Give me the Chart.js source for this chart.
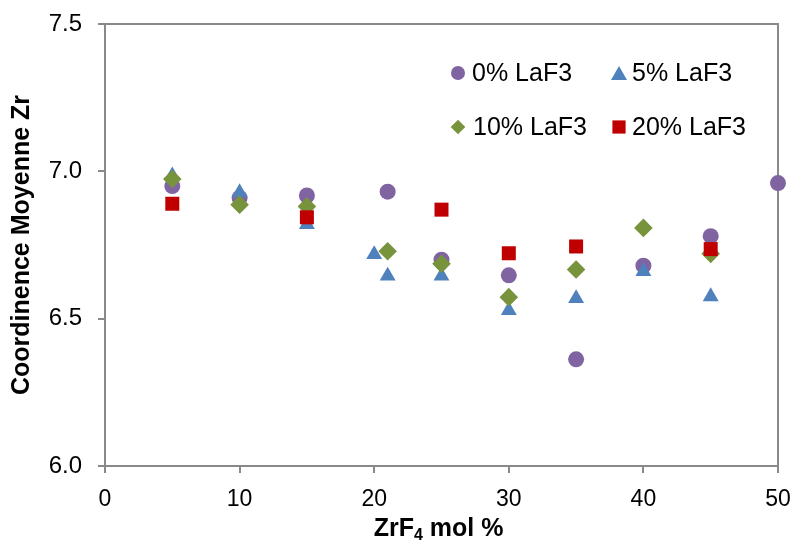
<!DOCTYPE html>
<html>
<head>
<meta charset="utf-8">
<script src="https://cdn.jsdelivr.net/npm/chart.js@4.4.1/dist/chart.umd.min.js"></script>
<style>
  html, body { margin: 0; padding: 0; background: #fff; }
  #wrap { width: 795px; height: 540px; position: relative; }
</style>
</head>
<body>
<div id="wrap"><canvas id="c" width="795" height="540"></canvas></div>
<script>
// ---- data ----
const seriesLabels = ['0% LaF3', '5% LaF3', '10% LaF3', '20% LaF3'];
const x0  = [5, 10, 15, 21, 25, 30, 35, 40, 45, 50];
const y0  = [6.95, 6.91, 6.918, 6.931, 6.70, 6.647, 6.362, 6.68, 6.78, 6.96];
const x5  = [5, 10, 15, 20, 21, 25, 30, 35, 40, 45];
const y5  = [6.985, 6.928, 6.82, 6.718, 6.645, 6.645, 6.528, 6.569, 6.66, 6.575];
const x10 = [5, 10, 15, 21, 25, 30, 35, 40, 45];
const y10 = [6.974, 6.887, 6.881, 6.729, 6.686, 6.573, 6.667, 6.808, 6.72];
const x20 = [5, 15, 25, 30, 35, 45];
const y20 = [6.89, 6.844, 6.87, 6.722, 6.745, 6.736];
const xTicks = [0, 10, 20, 30, 40, 50];
const yTicks = [6.0, 6.5, 7.0, 7.5];
const yTitle = 'Coordinence Moyenne Zr';
const xTitleParts = ['ZrF', '4', ' mol %'];

const FONT = '"Liberation Sans", Arial, sans-serif';
const AXIS = '#898989';
const colors = ['#8064A2', '#4F81BD', '#77933C', '#C00000'];
const shapes = ['circle', 'triangle', 'rectRot', 'rect'];
const radii = [8, 9.2, 9.3, 9.9];

function pts(xs, ys) { return xs.map((x, i) => ({ x: x, y: ys[i] })); }
const allX = [x0, x5, x10, x20];
const allY = [y0, y5, y10, y20];

const datasets = seriesLabels.map((lab, i) => ({
  label: lab,
  data: pts(allX[i], allY[i]),
  pointStyle: shapes[i],
  pointRadius: radii[i],
  pointHoverRadius: radii[i],
  backgroundColor: colors[i],
  borderColor: colors[i],
  pointBorderWidth: 0,
  borderWidth: 0,
  showLine: false,
  clip: false,
  order: 4 - i
}));

function drawMarker(ctx, shape, x, y, r, color) {
  ctx.save();
  ctx.fillStyle = color;
  ctx.beginPath();
  if (shape === 'circle') {
    ctx.arc(x, y, r, 0, Math.PI * 2);
  } else if (shape === 'triangle') {
    const h = r * 1.732;
    ctx.moveTo(x, y - h / 2);
    ctx.lineTo(x + r, y + h / 2);
    ctx.lineTo(x - r, y + h / 2);
    ctx.closePath();
  } else if (shape === 'rectRot') {
    ctx.moveTo(x, y - r); ctx.lineTo(x + r, y); ctx.lineTo(x, y + r); ctx.lineTo(x - r, y);
    ctx.closePath();
  } else {
    ctx.rect(x - r, y - r, 2 * r, 2 * r);
  }
  ctx.fill();
  ctx.restore();
}

const framePlugin = {
  id: 'frame',
  beforeDatasetsDraw(chart) {
    const a = chart.chartArea, ctx = chart.ctx;
    ctx.save();
    ctx.strokeStyle = AXIS;
    ctx.lineWidth = 2;
    ctx.beginPath();
    ctx.moveTo(a.left, a.top);
    ctx.lineTo(a.right, a.top);
    ctx.lineTo(a.right, a.bottom);
    ctx.stroke();
    ctx.restore();
  }
};

const legendPlugin = {
  id: 'customLegend',
  afterDraw(chart) {
    const ctx = chart.ctx;
    const pos = [
      { mx: 458, tx: 472, y: 73, r: 7 },
      { mx: 619, tx: 632, y: 73, r: 8 },
      { mx: 458, tx: 473, y: 127, r: 7.3 },
      { mx: 619, tx: 632, y: 127, r: 6.6 }
    ];
    ctx.save();
    ctx.font = '25px ' + FONT;
    ctx.fillStyle = '#000';
    ctx.textBaseline = 'middle';
    ctx.textAlign = 'left';
    chart.data.datasets.forEach((ds, i) => {
      const p = pos[i];
      drawMarker(ctx, shapes[i], p.mx, p.y, p.r, colors[i]);
      ctx.fillText(ds.label, p.tx, p.y + 1);
    });
    ctx.restore();
  }
};

const xTitlePlugin = {
  id: 'xTitle',
  afterDraw(chart) {
    const ctx = chart.ctx, a = chart.chartArea;
    ctx.save();
    const big = 'bold 25px ' + FONT, small = 'bold 16px ' + FONT;
    ctx.font = big; const w1 = ctx.measureText(xTitleParts[0]).width;
    ctx.font = small; const w2 = ctx.measureText(xTitleParts[1]).width;
    ctx.font = big; const w3 = ctx.measureText(xTitleParts[2]).width;
    const total = w1 + w2 + w3;
    let x = (a.left + a.right) / 2 - total / 2 - 3;
    const base = 536;
    ctx.fillStyle = '#000';
    ctx.textBaseline = 'alphabetic';
    ctx.textAlign = 'left';
    ctx.font = big; ctx.fillText(xTitleParts[0], x, base); x += w1;
    ctx.font = small; ctx.fillText(xTitleParts[1], x, base + 4); x += w2;
    ctx.font = big; ctx.fillText(xTitleParts[2], x, base);
    ctx.restore();
  }
};

new Chart(document.getElementById('c'), {
  type: 'scatter',
  data: { datasets: datasets },
  plugins: [framePlugin, legendPlugin, xTitlePlugin],
  options: {
    responsive: false,
    animation: false,
    devicePixelRatio: 1,
    layout: { padding: { top: 24, right: 17, left: 0, bottom: 0 } },
    plugins: { legend: { display: false }, tooltip: { enabled: false } },
    scales: {
      x: {
        type: 'linear', min: 0, max: 50,
        afterBuildTicks(scale) { scale.ticks = xTicks.map(v => ({ value: v })); },
        afterFit(scale) { scale.height = 74; scale.paddingLeft = 0; scale.paddingRight = 0; },
        ticks: { font: { family: FONT, size: 23 }, color: '#000', padding: 13, maxRotation: 0,
                 callback: v => String(v) },
        grid: { drawOnChartArea: false, tickLength: 7, color: AXIS, lineWidth: 2 },
        border: { color: AXIS, width: 2 }
      },
      y: {
        type: 'linear', min: 6, max: 7.5,
        afterBuildTicks(scale) { scale.ticks = yTicks.map(v => ({ value: v })); },
        afterFit(scale) { scale.width = 105; scale.paddingTop = 0; scale.paddingBottom = 0; },
        ticks: { font: { family: FONT, size: 24 }, color: '#000', padding: 16,
                 callback: v => Number(v).toFixed(1) },
        grid: { drawOnChartArea: false, tickLength: 7, color: AXIS, lineWidth: 2 },
        border: { color: AXIS, width: 2 },
        title: { display: true, text: yTitle, color: '#000', padding: { top: 7, bottom: 0 },
                 font: { family: FONT, size: 25, weight: 'bold' } }
      }
    }
  }
});
</script>
</body>
</html>
